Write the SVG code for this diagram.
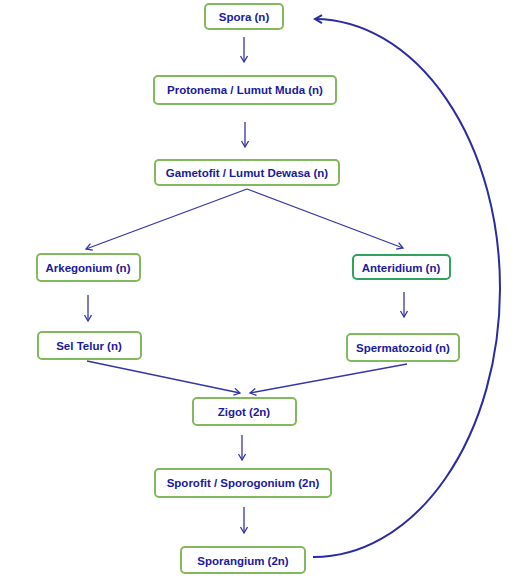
<svg xmlns="http://www.w3.org/2000/svg" width="525" height="587" viewBox="0 0 525 587">
<defs>
<style>
.box{fill:#ffffff;stroke:#82b95c;stroke-width:2}
.box2{fill:#ffffff;stroke:#2fa35c;stroke-width:2}
.t{font-family:"Liberation Sans",Arial,sans-serif;font-weight:bold;font-size:11.5px;fill:#1a1a9e;text-anchor:middle}
.c{fill:none;stroke:#3535a8;stroke-width:1.3}
.cv{fill:none;stroke:#2b2ba3;stroke-width:2}
</style>
<marker id="ah" markerWidth="10" markerHeight="10" refX="7" refY="4" orient="auto" markerUnits="userSpaceOnUse">
<path d="M1,0.5 L7,4 L1,7.5" fill="none" stroke="#3535a8" stroke-width="1.3"/>
</marker>
<marker id="ah2" markerWidth="12" markerHeight="12" refX="8" refY="5" orient="auto" markerUnits="userSpaceOnUse">
<path d="M1,1 L8,5 L1,9" fill="none" stroke="#2b2ba3" stroke-width="2"/>
</marker>
</defs>
<rect width="525" height="587" fill="#ffffff"/>
<g id="connectors">
<line class="c" x1="244" y1="37" x2="244" y2="62" marker-end="url(#ah)"/>
<line class="c" x1="245" y1="122" x2="245" y2="147" marker-end="url(#ah)"/>
<line class="c" x1="247" y1="189" x2="86" y2="249" marker-end="url(#ah)"/>
<line class="c" x1="247" y1="189" x2="403" y2="248" marker-end="url(#ah)"/>
<line class="c" x1="88" y1="295" x2="88" y2="321" marker-end="url(#ah)"/>
<line class="c" x1="404" y1="292" x2="404" y2="317" marker-end="url(#ah)"/>
<line class="c" x1="87" y1="361" x2="240" y2="393" marker-end="url(#ah)"/>
<line class="c" x1="407" y1="364" x2="250" y2="393" marker-end="url(#ah)"/>
<line class="c" x1="242" y1="435" x2="242" y2="460" marker-end="url(#ah)"/>
<line class="c" x1="244" y1="507" x2="244" y2="533" marker-end="url(#ah)"/>
<path class="cv" d="M313,557 A186,269 0 0 0 315,19" marker-end="url(#ah2)"/>
</g>
<g id="spora"><rect class="box" x="205" y="4" width="78" height="25" rx="4"/><text class="t" x="244" y="21">Spora (n)</text></g>
<g id="protonema"><rect class="box" x="154" y="76" width="182" height="28" rx="4"/><text class="t" x="245" y="94">Protonema / Lumut Muda (n)</text></g>
<g id="gametofit"><rect class="box" x="155" y="160" width="184" height="25" rx="4"/><text class="t" x="247" y="177">Gametofit / Lumut Dewasa (n)</text></g>
<g id="arkegonium"><rect class="box" x="37" y="254" width="103" height="27" rx="4"/><text class="t" x="88" y="272">Arkegonium (n)</text></g>
<g id="anteridium"><rect class="box2" x="353" y="255" width="97" height="24" rx="4"/><text class="t" x="401" y="272">Anteridium (n)</text></g>
<g id="seltelur"><rect class="box" x="38" y="332" width="103" height="27" rx="4"/><text class="t" x="89" y="350">Sel Telur (n)</text></g>
<g id="spermatozoid"><rect class="box" x="347" y="334" width="112" height="27" rx="4"/><text class="t" x="403" y="352">Spermatozoid (n)</text></g>
<g id="zigot"><rect class="box" x="193" y="398" width="103" height="27" rx="4"/><text class="t" x="244" y="416">Zigot (2n)</text></g>
<g id="sporofit"><rect class="box" x="155" y="469" width="176" height="28" rx="4"/><text class="t" x="243" y="487">Sporofit / Sporogonium (2n)</text></g>
<g id="sporangium"><rect class="box" x="181" y="547" width="124" height="26" rx="4"/><text class="t" x="243" y="565">Sporangium (2n)</text></g>
</svg>
